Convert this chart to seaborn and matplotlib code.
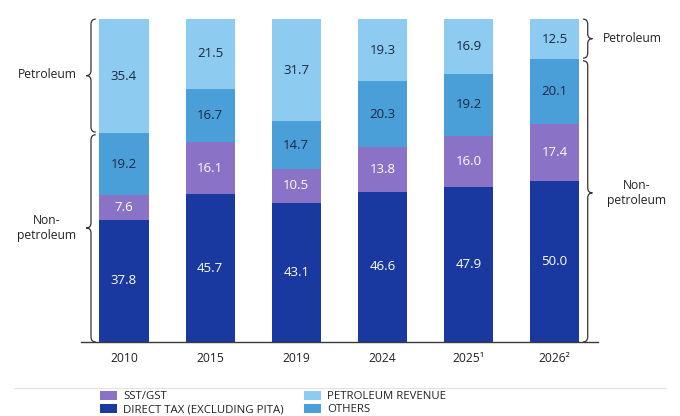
import numpy as np
import pandas as pd
import matplotlib
matplotlib.use("Agg")
import matplotlib.pyplot as plt
from matplotlib.path import Path
from matplotlib.patches import PathPatch, Patch
from matplotlib.lines import Line2D
import seaborn as sns

# revenue composition, % of total
years = ["2010", "2015", "2019", "2024", "2025¹", "2026²"]
direct_tax = [37.8, 45.7, 43.1, 46.6, 47.9, 50.0]
sst_gst = [7.6, 16.1, 10.5, 13.8, 16.0, 17.4]
others = [19.2, 16.7, 14.7, 20.3, 19.2, 20.1]
petroleum = [35.4, 21.5, 31.7, 19.3, 16.9, 12.5]

series = ["DIRECT TAX (EXCLUDING PITA)", "SST/GST", "OTHERS", "PETROLEUM REVENUE"]
colors = ["#1a39a0", "#8a73c6", "#4a9fd8", "#8dcbf0"]
text_colors = ["white", "white", "#1c2740", "#1c2740"]

sns.set_style("white")
plt.rcParams["font.family"] = ["Open Sans", "DejaVu Sans"]

df = pd.DataFrame({"year": years, series[0]: direct_tax, series[1]: sst_gst,
                   series[2]: others, series[3]: petroleum})
tops = df[series].cumsum(axis=1)
bottoms = tops - df[series]

fig = plt.figure(figsize=(6.8, 4.16), dpi=100)
ax = fig.add_axes([0.119, 0.178, 0.760, 0.776])

# stacked bars: draw cumulative totals from the top layer down
for name, col in reversed(list(zip(series, colors))):
    sns.barplot(x=df["year"], y=tops[name], color=col, width=0.57,
                saturation=1, linewidth=0, ax=ax)

for i in range(len(years)):
    for name, tc in zip(series, text_colors):
        v = df.loc[i, name]
        ax.text(i, bottoms.loc[i, name] + v / 2, f"{v:.1f}", ha="center", va="center",
                color=tc, fontsize=9.5)

ax.set_xlim(-0.5, 5.5)
ax.set_ylim(0, 100)
ax.set_xlabel("")
ax.set_ylabel("")
ax.set_yticks([])
sns.despine(ax=ax, left=True)
ax.spines["bottom"].set_color("#3a3a3a")
ax.spines["bottom"].set_linewidth(1.0)
ax.tick_params(axis="x", length=0, pad=7, labelsize=8.7, colors="#222222")


def brace(ax, x, y0, y1, w, r, side, tip=0.5):
    s = -1 if side == "left" else 1
    ym = y0 + (y1 - y0) * tip
    verts = [(x - s * w, y1), (x, y1), (x, y1 - r),
             (x, ym + r), (x, ym), (x + s * w, ym),
             (x, ym), (x, ym - r),
             (x, y0 + r), (x, y0), (x - s * w, y0)]
    codes = [Path.MOVETO, Path.CURVE3, Path.CURVE3, Path.LINETO,
             Path.CURVE3, Path.CURVE3, Path.CURVE3, Path.CURVE3,
             Path.LINETO, Path.CURVE3, Path.CURVE3]
    ax.add_patch(PathPatch(Path(verts, codes), fc="none", ec="#333333",
                           lw=0.9, clip_on=False))


split_left = 100 - petroleum[0]
split_right = 100 - petroleum[-1]
gap = 0.4
brace(ax, -0.383, split_left + gap, 100, 0.055, 1.6, "left")
brace(ax, -0.383, 0, split_left - gap, 0.055, 1.6, "left", tip=0.55)
brace(ax, 5.384, split_right + gap, 100, 0.055, 1.6, "right")
brace(ax, 5.384, 0, split_right - gap, 0.055, 1.6, "right", tip=0.53)

side_kw = dict(fontsize=8.7, color="#222222", va="center", clip_on=False, linespacing=1.25)
ax.text(-0.547, split_left + gap + (100 - split_left) / 2, "Petroleum", ha="right", **side_kw)
ax.text(-0.895, (split_left - gap) * 0.55, "Non-\npetroleum", ha="center",
        multialignment="center", **side_kw)
ax.text(5.558, split_right + gap + (100 - split_right) / 2, "Petroleum", ha="left", **side_kw)
ax.text(5.952, (split_right - gap) * 0.53, "Non-\npetroleum", ha="center",
        multialignment="center", **side_kw)

fig.add_artist(Line2D([0.02, 0.98], [1 - 388 / 416] * 2, color="#e2e2e2", lw=0.8, zorder=0))

order = [1, 0, 3, 2]
handles = [Patch(facecolor=colors[k], edgecolor="none") for k in order]
labels = [series[k] for k in order]
leg = fig.legend(handles, labels, ncol=2, loc="upper left", bbox_to_anchor=(0.147, 0.060),
                 frameon=True, facecolor="white", edgecolor="none", fancybox=False,
                 fontsize=8.2, handlelength=1.5, handleheight=0.8, handletextpad=0.55,
                 columnspacing=1.75, labelspacing=0.15, borderpad=0, borderaxespad=0)
for t in leg.get_texts():
    t.set_color("#222222")

fig.savefig("out.png", dpi=100, facecolor="white")
